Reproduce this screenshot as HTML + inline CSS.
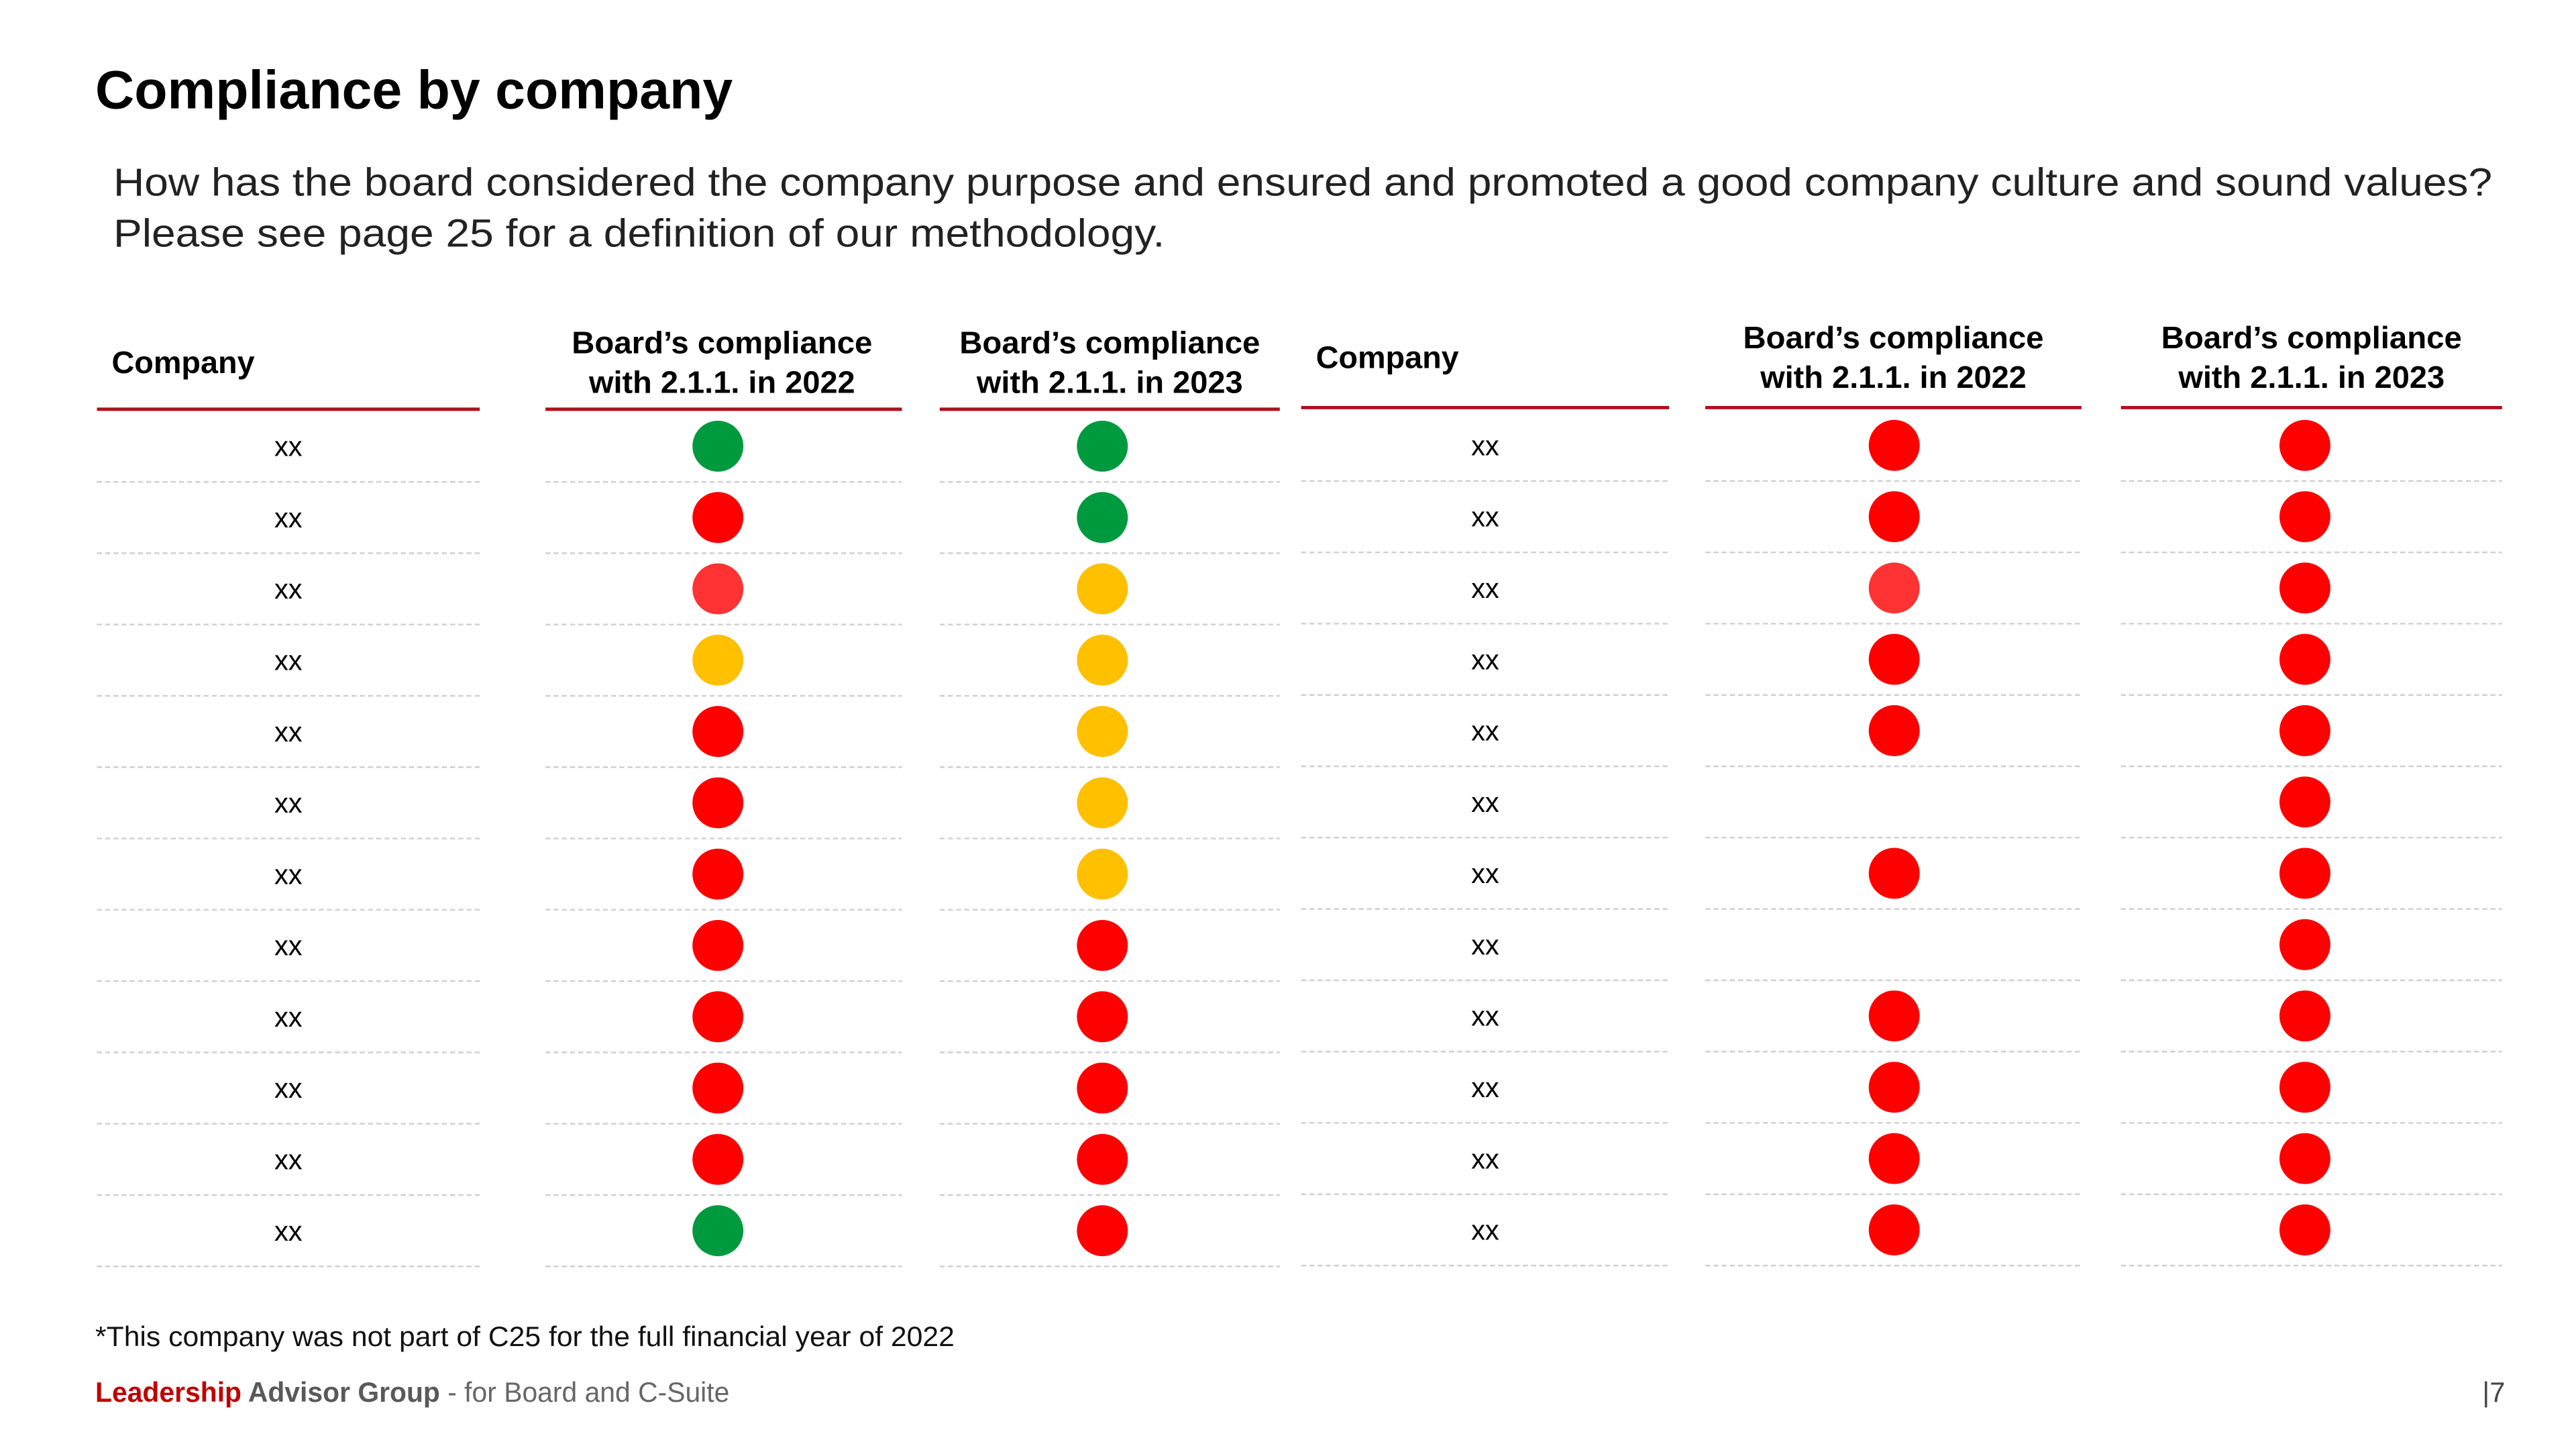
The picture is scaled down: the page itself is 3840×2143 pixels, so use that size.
<!DOCTYPE html>
<html><head><meta charset="utf-8"><style>
html,body{margin:0;padding:0;background:#fff;}
svg{display:block;}
text{font-family:"Liberation Sans",sans-serif;}
</style></head><body>
<svg id="chart" width="3840" height="2143" viewBox="0 0 1568 875" xmlns="http://www.w3.org/2000/svg">
<text x="58" y="66" font-size="33" font-weight="bold" fill="#000" textLength="388" lengthAdjust="spacingAndGlyphs">Compliance by company</text>
<text x="69" y="119" font-size="24" fill="#222" textLength="1448" lengthAdjust="spacingAndGlyphs">How has the board considered the company purpose and ensured and promoted a good company culture and sound values?</text>
<text x="69" y="150" font-size="24" fill="#222" textLength="640" lengthAdjust="spacingAndGlyphs">Please see page 25 for a definition of our methodology.</text>
<g id="tables"></g>
<text x="58" y="819" font-size="17" fill="#111" textLength="523" lengthAdjust="spacingAndGlyphs">*This company was not part of C25 for the full financial year of 2022</text>
<text x="58" y="853" font-size="17" textLength="386" lengthAdjust="spacingAndGlyphs"><tspan fill="#C00000" font-weight="bold">Leadership</tspan><tspan fill="#595959" font-weight="bold"> Advisor Group</tspan><tspan fill="#666"> - for Board and C-Suite</tspan></text>
<text x="1511" y="853" font-size="17" fill="#444">|7</text>
</svg>
<script>
const companiesLeft = ["xx","xx","xx","xx","xx","xx","xx","xx","xx","xx","xx","xx"];
const companiesRight = ["xx","xx","xx","xx","xx","xx","xx","xx","xx","xx","xx","xx"];
const left2022 = ["G","R","L","Y","R","R","R","R","R","R","R","G"];
const left2023 = ["G","G","Y","Y","Y","Y","Y","R","R","R","R","R"];
const right2022 = ["R","R","L","R","R","","R","","R","R","R","R"];
const right2023 = ["R","R","R","R","R","R","R","R","R","R","R","R"];
const colorMap = {G:"#009A3E",R:"#FF0000",L:"#FF3333",Y:"#FFC000"};
const NS="http://www.w3.org/2000/svg";
const g=document.getElementById('tables');
function el(tag,attrs){const e=document.createElementNS(NS,tag);for(const k in attrs)e.setAttribute(k,attrs[k]);g.appendChild(e);return e;}
const rowY = i => 271.5 + i*43.4;
function table(side, names, s22, s23, cols, lineY, hdrY, offset){
  cols.forEach((c,ci)=>{
    const ln=el('line',{x1:c[0],x2:c[1],y1:lineY,y2:lineY,stroke:'#B0101A','stroke-width':2});
    
    
    for(let i=0;i<names.length;i++){
      const y=rowY(i)+offset+21.7;
      const d=el('line',{x1:c[0],x2:c[1],y1:y,y2:y,stroke:'#cfcfcf','stroke-width':1,'stroke-dasharray':'3 2'});
      
      
    }
  });
  const h=el('text',{x:cols[0][0]+9,y:hdrY+8,'font-size':19,'font-weight':'bold',fill:'#000',textLength:87,lengthAdjust:'spacingAndGlyphs'});
  h.textContent='Company';
  
  
  [['2022',1],['2023',2]].forEach(([yr,ci])=>{
    const cx=(cols[ci][0]+cols[ci][1])/2+ (ci===1?(side==='left'?-1:0):0);
    const t1=el('text',{x:cx,y:hdrY-4,'font-size':19,'font-weight':'bold','text-anchor':'middle',fill:'#000',textLength:183,lengthAdjust:'spacingAndGlyphs'});
    t1.textContent='Board’s compliance';
    
    
    const t2=el('text',{x:cx,y:hdrY+20,'font-size':19,'font-weight':'bold','text-anchor':'middle',fill:'#000',textLength:162,lengthAdjust:'spacingAndGlyphs'});
    t2.textContent='with 2.1.1. in '+yr;
    
    
  });
  const nx=(cols[0][0]+cols[0][1])/2;
  const cx22=side==='left'?437:1153, cx23=side==='left'?671:1403;
  names.forEach((n,i)=>{
    const y=rowY(i)+offset;
    const t=el('text',{x:nx,y:y+6,'font-size':17,'text-anchor':'middle',fill:'#000'});
    t.textContent=n;
    
    
    [[s22[i],cx22,'2022'],[s23[i],cx23,'2023']].forEach(([v,cx,yr])=>{
      if(!v)return;
      const c=el('circle',{cx:cx,cy:y,r:15.5,fill:colorMap[v]});
      
      
    });
  });
}
table('left',companiesLeft,left2022,left2023,[[59,292],[332,549],[572,779]],249,219,0);
table('right',companiesRight,right2022,right2023,[[792,1016],[1038,1267],[1291,1523]],248,216,-0.5);
</script>
</body></html>
